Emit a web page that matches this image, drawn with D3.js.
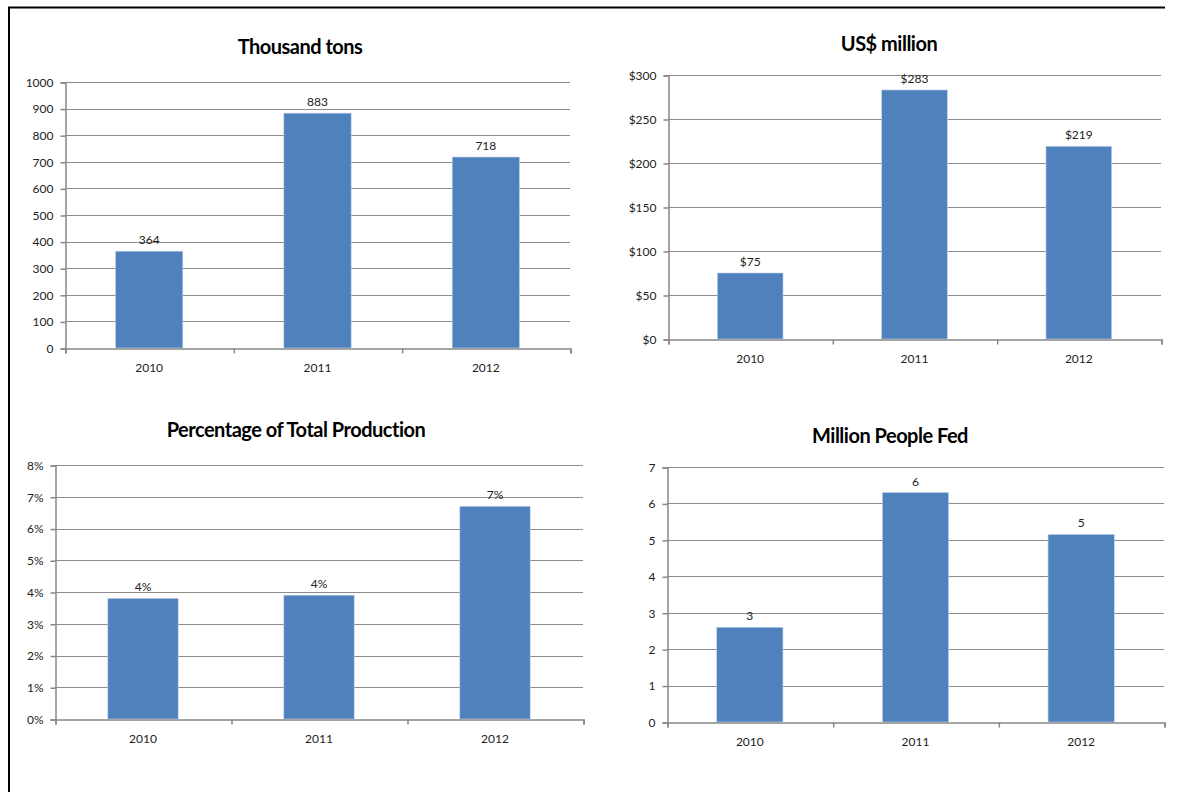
<!DOCTYPE html>
<html>
<head>
<meta charset="utf-8">
<script src="https://cdn.jsdelivr.net/npm/d3@7"></script>
<style>
  html, body { margin: 0; background: #fff; overflow: hidden; }
  svg { display: block; font-family: Lato, "Open Sans", sans-serif; }
</style>
</head>
<body>
<svg id="chart" width="1179" height="792"></svg>
<script>
// data
const years = ["2010", "2011", "2012"];

const tonsValues = [364, 883, 718];
const tonsLabels = ["364", "883", "718"];
const tonsTicks = [0, 100, 200, 300, 400, 500, 600, 700, 800, 900, 1000];

const usdValues = [75, 283, 219];
const usdLabels = ["$75", "$283", "$219"];
const usdTicks = [0, 50, 100, 150, 200, 250, 300];

const pctValues = [3.8, 3.9, 6.7];
const pctLabels = ["4%", "4%", "7%"];
const pctTicks = [0, 1, 2, 3, 4, 5, 6, 7, 8];

const fedValues = [2.6, 6.3, 5.15];
const fedLabels = ["3", "6", "5"];
const fedTicks = [0, 1, 2, 3, 4, 5, 6, 7];

const svg = d3.select("#chart");

// outer frame (left and top only)
svg.append("path")
    .attr("d", "M9,800 L9,7.5 L1165,7.5")
    .attr("fill", "none")
    .attr("stroke", "#000")
    .attr("stroke-width", 2);

function drawPanel(p) {
    let g = svg.append("g");

    let x = d3.scaleBand().domain(years).range([p.left, p.right]).paddingInner(0).paddingOuter(0);
    let y = d3.scaleLinear().domain([0, p.max]).range([p.bottom, p.top]);

    g.append("text")
        .attr("x", p.titleX)
        .attr("y", p.titleY)
        .attr("text-anchor", "middle")
        .style("font-size", "20px")
        .style("font-weight", "bold")
        .style("letter-spacing", "-0.5px")
        .text(p.title);

    // gridlines
    g.selectAll(".grid")
        .data(p.ticks.slice(1))
        .enter()
        .append("line")
        .attr("x1", p.left)
        .attr("x2", p.right)
        .attr("y1", d => Math.round(y(d)) + 0.5)
        .attr("y2", d => Math.round(y(d)) + 0.5)
        .attr("stroke", "#8c8c8c")
        .attr("stroke-width", 1);

    // bars
    let bw = x.bandwidth() * 0.4;
    g.selectAll(".bar")
        .data(p.values)
        .enter()
        .append("rect")
        .attr("x", (d, i) => x(years[i]) + (x.bandwidth() - bw) / 2)
        .attr("y", d => y(d))
        .attr("width", bw)
        .attr("height", d => p.bottom - y(d))
        .attr("fill", "#4f81bd")
        .attr("stroke", "#c5d4ea")
        .attr("stroke-width", 0.6);

    // data labels
    g.selectAll(".lbl")
        .data(p.values)
        .enter()
        .append("text")
        .attr("x", (d, i) => x(years[i]) + x.bandwidth() / 2)
        .attr("y", d => y(d) - 7)
        .attr("text-anchor", "middle")
        .style("font-size", "12px")
        .style("fill", "#222")
        .text((d, i) => p.labels[i]);

    // y axis
    let yAxis = d3.axisLeft(y)
        .tickValues(p.ticks)
        .tickFormat(p.fmt)
        .tickSize(5)
        .tickPadding(7);
    let ya = g.append("g")
        .attr("transform", "translate(" + (p.left + 0.5) + ",0.5)")
        .call(yAxis);
    ya.selectAll("path, line").attr("stroke", "#888").attr("stroke-width", 1.5);
    ya.selectAll("text").style("font-size", "12px").style("fill", "#222").style("font-family", "Lato, sans-serif");

    // x axis with ticks at category boundaries
    let xb = d3.scaleLinear().domain([0, 3]).range([p.left, p.right]);
    let xa = g.append("g")
        .attr("transform", "translate(0.5," + (p.bottom + 0.5) + ")")
        .call(d3.axisBottom(xb).tickValues([0, 1, 2, 3]).tickFormat("").tickSize(5).tickSizeOuter(5));
    xa.selectAll("path, line").attr("stroke", "#888").attr("stroke-width", 1.5);

    g.selectAll(".xl")
        .data(years)
        .enter()
        .append("text")
        .attr("x", d => x(d) + x.bandwidth() / 2)
        .attr("y", p.bottom + 24)
        .attr("text-anchor", "middle")
        .style("font-size", "12px")
        .style("fill", "#222")
        .text(d => d);
}

drawPanel({
    title: "Thousand tons", titleX: 300, titleY: 54,
    left: 65, right: 570, top: 82, bottom: 348,
    max: 1000, ticks: tonsTicks, values: tonsValues, labels: tonsLabels,
    fmt: d => d
});

drawPanel({
    title: "US$ million", titleX: 889, titleY: 51,
    left: 668, right: 1161, top: 75, bottom: 339,
    max: 300, ticks: usdTicks, values: usdValues, labels: usdLabels,
    fmt: d => "$" + d
});

drawPanel({
    title: "Percentage of Total Production", titleX: 296, titleY: 437,
    left: 55, right: 583, top: 465, bottom: 719,
    max: 8, ticks: pctTicks, values: pctValues, labels: pctLabels,
    fmt: d => d + "%"
});

drawPanel({
    title: "Million People Fed", titleX: 890, titleY: 443,
    left: 667, right: 1164, top: 467, bottom: 722,
    max: 7, ticks: fedTicks, values: fedValues, labels: fedLabels,
    fmt: d => d
});
</script>
</body>
</html>
